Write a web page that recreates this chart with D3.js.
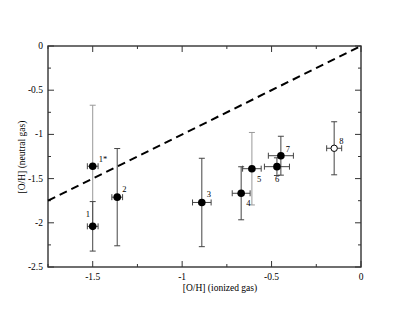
<!DOCTYPE html>
<html>
<head>
<meta charset="utf-8">
<script src="https://cdn.jsdelivr.net/npm/d3@7"></script>
<style>
  body { margin: 0; background: #fff; }
  text { font-family: "Liberation Serif", "DejaVu Serif", serif; fill: #000; }
</style>
</head>
<body>
<div id="chart"></div>
<script>
// data
const labels = ["1*", "1", "2", "3", "4", "5", "6", "7", "8"];
const xIon   = [-1.50, -1.50, -1.363, -0.89, -0.67, -0.61, -0.47, -0.448, -0.15];
const xErr   = [0.03, 0.03, 0.03, 0.052, 0.05, 0.052, 0.07, 0.07, 0.042];
const yNeu   = [-1.36, -2.04, -1.71, -1.77, -1.666, -1.388, -1.365, -1.241, -1.157];
const yErr   = [0.69, 0.28, 0.55, 0.50, 0.30, 0.41, 0.10, 0.22, 0.30];
const filled = [true, true, true, true, true, true, true, true, false];
const grey   = [true, false, false, false, false, true, false, false, false];
// label offsets relative to each marker
const lblDx  = [6, -7, 5, 5, 5, 5, -2, 5, 5];
const lblDy  = [-4, -9, -5, -5, 13, 13, 15, -4, -4];

const xTicks = [-1.5, -1, -0.5, 0];
const yTicks = [0, -0.5, -1, -1.5, -2, -2.5];

const W = 407, H = 315;
const margin = {top: 46, right: 46, bottom: 48, left: 48},
    width = W - margin.left - margin.right,
    height = H - margin.top - margin.bottom;

const svg = d3.select("#chart")
    .append("svg")
    .attr("width", W)
    .attr("height", H)
    .append("g")
    .attr("transform", `translate(${margin.left}, ${margin.top})`);

const x = d3.scaleLinear().domain([-1.75, 0]).range([0, width]);
const y = d3.scaleLinear().domain([-2.5, 0]).range([height, 0]);

const axisCol = "#333";

// ticks, inward, on all four sides
const xMinor = d3.range(-1.75, 0.001, 0.25);
const yMinor = d3.range(-2.5, 0.001, 0.25);

function isMajor(v) { return Math.abs(v * 2 - Math.round(v * 2)) < 1e-6; }

const tk = svg.append("g").attr("stroke", axisCol).attr("stroke-width", 1);
xMinor.forEach(v => {
    const len = isMajor(v) ? 6 : 3;
    tk.append("line").attr("x1", x(v)).attr("x2", x(v)).attr("y1", height).attr("y2", height - len);
    tk.append("line").attr("x1", x(v)).attr("x2", x(v)).attr("y1", 0).attr("y2", len);
});
yMinor.forEach(v => {
    const len = isMajor(v) ? 6 : 3;
    tk.append("line").attr("y1", y(v)).attr("y2", y(v)).attr("x1", 0).attr("x2", len);
    tk.append("line").attr("y1", y(v)).attr("y2", y(v)).attr("x1", width).attr("x2", width - len);
});

// frame
svg.append("rect")
    .attr("width", width).attr("height", height)
    .attr("fill", "none").attr("stroke", axisCol).attr("stroke-width", 1.4);

// tick labels
svg.selectAll(".xl").data(xTicks).enter().append("text")
    .attr("class", "xl")
    .attr("x", d => x(d)).attr("y", height + 13)
    .attr("text-anchor", "middle").attr("font-size", 9.5)
    .text(d => d);

svg.selectAll(".yl").data(yTicks).enter().append("text")
    .attr("class", "yl")
    .attr("x", -5).attr("y", d => y(d) + 3)
    .attr("text-anchor", "end").attr("font-size", 9.5)
    .text(d => d);

// axis titles
svg.append("text")
    .attr("x", 172).attr("y", height + 24)
    .attr("text-anchor", "middle").attr("font-size", 9.5)
    .text("[O/H] (ionized gas)");

svg.append("text")
    .attr("transform", `translate(-23, ${111}) rotate(-90)`)
    .attr("text-anchor", "middle").attr("font-size", 9.5)
    .text("[O/H] (neutral gas)");

// one-to-one dashed line
svg.append("line")
    .attr("x1", x(-1.75)).attr("y1", y(-1.75))
    .attr("x2", x(0)).attr("y2", y(0))
    .attr("stroke", "#000").attr("stroke-width", 2)
    .attr("stroke-dasharray", "8,5");

const pts = labels.map((l, i) => ({
    label: l, x: xIon[i], xe: xErr[i], y: yNeu[i], ye: yErr[i],
    filled: filled[i], grey: grey[i], dx: lblDx[i], dy: lblDy[i]
}));

// error bars
const eb = svg.selectAll(".eb").data(pts).enter().append("g")
    .attr("class", "eb")
    .attr("stroke", d => d.grey ? "#999" : "#444")
    .attr("stroke-width", 1);

const cap = 3;
eb.append("line")
    .attr("x1", d => x(d.x)).attr("x2", d => x(d.x))
    .attr("y1", d => y(d.y + d.ye)).attr("y2", d => y(d.y - d.ye));
eb.append("line")
    .attr("x1", d => x(d.x) - cap).attr("x2", d => x(d.x) + cap)
    .attr("y1", d => y(d.y + d.ye)).attr("y2", d => y(d.y + d.ye));
eb.append("line")
    .attr("x1", d => x(d.x) - cap).attr("x2", d => x(d.x) + cap)
    .attr("y1", d => y(d.y - d.ye)).attr("y2", d => y(d.y - d.ye));
eb.append("line")
    .attr("stroke", "#444")
    .attr("x1", d => x(d.x - d.xe)).attr("x2", d => x(d.x + d.xe))
    .attr("y1", d => y(d.y)).attr("y2", d => y(d.y));
eb.append("line")
    .attr("stroke", "#444")
    .attr("x1", d => x(d.x - d.xe)).attr("x2", d => x(d.x - d.xe))
    .attr("y1", d => y(d.y) - cap).attr("y2", d => y(d.y) + cap);
eb.append("line")
    .attr("stroke", "#444")
    .attr("x1", d => x(d.x + d.xe)).attr("x2", d => x(d.x + d.xe))
    .attr("y1", d => y(d.y) - cap).attr("y2", d => y(d.y) + cap);

// markers
svg.selectAll(".dot").data(pts).enter().append("circle")
    .attr("class", "dot")
    .attr("cx", d => x(d.x)).attr("cy", d => y(d.y))
    .attr("r", d => d.filled ? 3.8 : 3.2)
    .attr("fill", d => d.filled ? "#000" : "#fff")
    .attr("stroke", "#000").attr("stroke-width", d => d.filled ? 0 : 1);

// point labels
svg.selectAll(".pl").data(pts).enter().append("text")
    .attr("class", "pl")
    .attr("x", d => x(d.x) + d.dx).attr("y", d => y(d.y) + d.dy)
    .attr("font-size", 8.5)
    .text(d => d.label);
</script>
</body>
</html>
